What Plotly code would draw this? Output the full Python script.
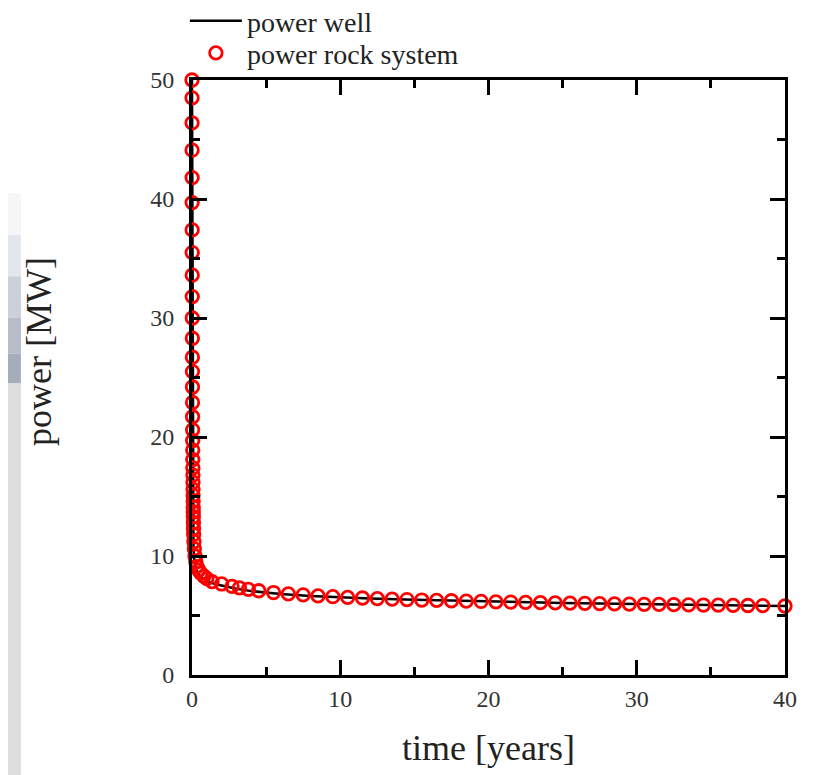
import plotly.graph_objects as go

# ---- data ----
well_time = [0, 0.004, 0.008, 0.012, 0.018, 0.025, 0.035, 0.05, 0.07, 0.1, 0.15, 0.25, 0.35,
             0.5, 0.7, 0.9, 1.2, 1.6, 2.0, 3.0, 4.0, 5.0, 6.0, 8.0, 10.0, 12.0, 15.0,
             20.0, 25.0, 30.0, 35.0, 40.0]
well_power = [50.0, 47.0, 43.0, 39.0, 34.0, 29.5, 24.5, 19.5, 15.0, 10.8, 9.7, 9.0, 8.7,
              8.4, 8.15, 7.98, 7.8, 7.62, 7.5, 7.25, 7.05, 6.9, 6.8, 6.63, 6.52, 6.43, 6.33,
              6.17, 6.05, 5.96, 5.89, 5.8]

rock_time = [0, 0.002, 0.004, 0.006, 0.008, 0.01, 0.012, 0.014, 0.016, 0.018,
             0.021, 0.024, 0.027, 0.03, 0.033, 0.036, 0.039, 0.042,
             0.046, 0.05, 0.054, 0.058, 0.062, 0.066, 0.07, 0.074, 0.078, 0.082, 0.086,
             0.09, 0.095, 0.1, 0.11, 0.13, 0.16, 0.2, 0.26, 0.34, 0.45, 0.6, 0.8, 1.0,
             1.35, 2.0, 2.7, 3.2, 3.8, 4.5, 5.5, 6.5, 7.5, 8.5, 9.5, 10.5, 11.5, 12.5,
             13.5, 14.5, 15.5, 16.5, 17.5, 18.5, 19.5, 20.5, 21.5, 22.5, 23.5, 24.5,
             25.5, 26.5, 27.5, 28.5, 29.5, 30.5, 31.5, 32.5, 33.5, 34.5, 35.5, 36.5,
             37.5, 38.5, 40.0]
rock_power = [50.0, 48.5, 46.4, 44.1, 41.8, 39.7, 37.4, 35.5, 33.6, 31.8,
              30.0, 28.3, 26.7, 25.5, 24.2, 22.9, 21.7, 20.6,
              19.7, 18.9, 18.1, 17.4, 16.8, 16.2, 15.6, 15.1, 14.6, 14.1, 13.7,
              13.3, 12.8, 12.3, 11.8, 11.2, 10.6, 10.0, 9.5, 9.1, 8.8, 8.55, 8.3, 8.1,
              7.85, 7.65, 7.45, 7.32, 7.2, 7.08, 6.93, 6.82, 6.73, 6.65, 6.58, 6.52, 6.47, 6.42,
              6.38, 6.34, 6.3, 6.27, 6.24, 6.21, 6.18, 6.15, 6.13, 6.1, 6.08, 6.06,
              6.04, 6.02, 6.0, 5.98, 5.96, 5.94, 5.93, 5.91, 5.9, 5.88, 5.87, 5.85,
              5.84, 5.83, 5.8]

x_ticks = [0, 10, 20, 30, 40]
y_ticks = [0, 10, 20, 30, 40, 50]

FONT = "Liberation Serif"

fig = go.Figure()
fig.add_trace(go.Scatter(
    x=well_time, y=well_power, mode="lines", name="power well",
    line=dict(color="black", width=2.5), cliponaxis=False, legend="legend"))
fig.add_trace(go.Scatter(
    x=rock_time, y=rock_power, mode="markers", name="power rock system",
    marker=dict(symbol="circle-open", size=12.5, color="#ff0000",
                line=dict(color="#ff0000", width=2.8)),
    cliponaxis=False, legend="legend2"))

axis_common = dict(
    showline=True, linecolor="black", linewidth=3, mirror="allticks",
    ticks="inside", ticklen=15, tickwidth=2.5, tickcolor="black",
    showgrid=False, zeroline=False,
    tickfont=dict(family=FONT, size=24, color="#333333"),
)

fig.update_xaxes(range=[0, 40], tickvals=x_ticks, ticktext=[str(v) for v in x_ticks],
                 minor=dict(ticks="inside", ticklen=8, tickwidth=2.5, tickcolor="black", dtick=5,
                            showgrid=False),
                 title=dict(text="time [years]", font=dict(family=FONT, size=36, color="#222222"),
                            standoff=25),
                 **axis_common)
fig.update_yaxes(range=[0, 50], tickvals=y_ticks, ticktext=[str(v) for v in y_ticks],
                 minor=dict(ticks="inside", ticklen=8, tickwidth=2.5, tickcolor="black", dtick=5,
                            showgrid=False),
                 ticklabelstandoff=10,
                 **axis_common)

# y-axis title placed as annotation (sits a bit above centre in the reference)
fig.add_annotation(text="power [MW]", xref="paper", yref="paper", x=-0.258, y=0.543,
                   xanchor="center", yanchor="middle",
                   textangle=-90, showarrow=False,
                   font=dict(family=FONT, size=36, color="#222222"))

# decorative slide background strip at the far left
strip = [("#f5f6f8", 0.81, 0.74), ("#e3e6eb", 0.74, 0.67), ("#ccd1d9", 0.67, 0.60),
         ("#b6bdc9", 0.60, 0.54), ("#a5adbb", 0.54, 0.49), ("#dedede", 0.49, -0.2)]
for col, y1, y0 in strip:
    fig.add_shape(type="rect", xref="paper", yref="paper", x0=-0.3103, x1=-0.2885,
                  y0=y0, y1=y1, fillcolor=col, line=dict(width=0), layer="below")

legend_common = dict(xanchor="left", yanchor="middle", bgcolor="rgba(0,0,0,0)",
                     borderwidth=0, font=dict(family=FONT, size=28, color="#222222"),
                     itemwidth=52)

# the page body adds an 8px margin, so the figure is 8px smaller than the window
fig.update_layout(
    width=812, height=767,
    margin=dict(l=184, r=35, t=72, b=100, autoexpand=False),
    paper_bgcolor="white", plot_bgcolor="white",
    font=dict(family=FONT, color="#222222"),
    showlegend=True,
    legend=dict(x=-0.012, y=1.099, **legend_common),
    legend2=dict(x=-0.012, y=1.045, **legend_common),
)

fig.write_html("out.html")
